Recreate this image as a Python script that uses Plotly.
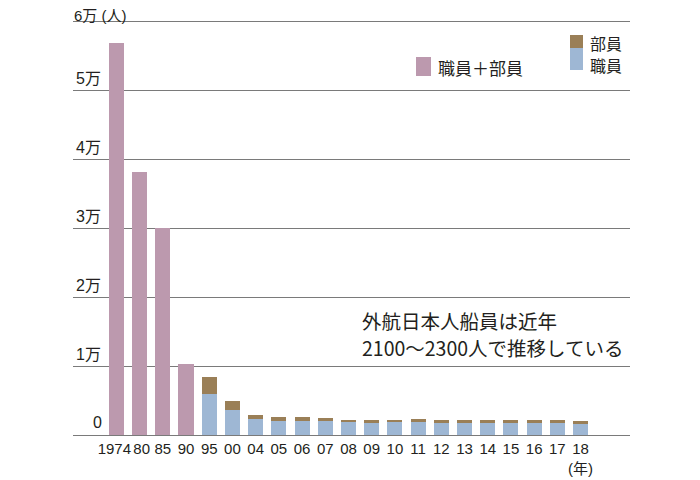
import plotly.graph_objects as go

PINK_COLOR = "#BC99AE"
BROWN_COLOR = "#9A7F57"
BLUE_COLOR = "#9EB7D4"
GRID_COLOR = "#7A7A7A"
TEXT_COLOR = "#231F20"
JP_FONT = "Noto Sans CJK JP"
NUM_FONT = "Liberation Sans, Noto Sans CJK JP"
NBSP = "\u00a0"

# DATA
years = ["1974", "80", "85", "90", "95", "00", "04", "05", "06", "07",
         "08", "09", "10", "11", "12", "13", "14", "15", "16", "17", "18"]

# 職員＋部員 (1974-90)
total_crew = [56800, 38100, 30000, 10300] + [None] * 17

# 職員 (1995-)
officers = [None] * 4 + [5900, 3560, 2320, 2070, 2070, 1980, 1830, 1740,
                         1830, 1830, 1710, 1690, 1790, 1740, 1740, 1740, 1550]

# 部員 (1995-)
ratings = [None] * 4 + [2500, 1410, 620, 540, 580, 480, 390, 380,
                        390, 430, 410, 480, 430, 430, 380, 430, 480]

y_tickvals = [10000, 20000, 30000, 40000, 50000, 60000]
y_ticktext = ["1万", "2万", "3万", "4万", "5万", ""]
y_top_label = "6万 (人)"

# tight labels at the left need a little air between them
x_ticktext = ["1974" + NBSP, NBSP + "80"] + years[2:-1] + ["18<br>(年)"]

# page offset (body margin) and plot area in page pixels
OFF = 8
FIG_W = 700 - OFF
FIG_H = 480 - OFF
PLOT_L = 73
PLOT_R = 630
PLOT_T = 8
PLOT_B = 435


def px_x(x):
    return (x - PLOT_L) / (PLOT_R - PLOT_L)


def px_y(y):
    return (PLOT_B - y) / (PLOT_B - PLOT_T)


fig = go.Figure()

fig.add_trace(
    go.Bar(
        x=years,
        y=total_crew,
        name="職員＋部員",
        marker=dict(color=PINK_COLOR, line=dict(width=0)),
        width=0.65
    )
)

fig.add_trace(
    go.Bar(
        x=years,
        y=officers,
        name="職員",
        marker=dict(color=BLUE_COLOR, line=dict(width=0)),
        width=0.65
    )
)

fig.add_trace(
    go.Bar(
        x=years,
        y=ratings,
        name="部員",
        marker=dict(color=BROWN_COLOR, line=dict(width=0)),
        width=0.65
    )
)

fig.update_layout(
    barmode="stack",
    showlegend=False,
    width=FIG_W,
    height=FIG_H,
    margin=dict(
        l=PLOT_L - OFF,
        r=FIG_W - (PLOT_R - OFF),
        t=PLOT_T - OFF,
        b=FIG_H - (PLOT_B - OFF)
    ),
    paper_bgcolor="white",
    plot_bgcolor="white",
    font=dict(family=JP_FONT, color=TEXT_COLOR, size=15)
)

fig.update_xaxes(
    type="category",
    range=[-1.87, 22.13],
    tickmode="array",
    tickvals=years,
    ticktext=x_ticktext,
    tickangle=0,
    ticks="",
    automargin=False,
    showgrid=False,
    showline=True,
    linecolor=GRID_COLOR,
    linewidth=1,
    tickfont=dict(family=NUM_FONT, size=15, color=TEXT_COLOR)
)

fig.update_yaxes(
    range=[0, 60000 * (PLOT_B - PLOT_T) / (PLOT_B - 21)],
    tickmode="array",
    tickvals=y_tickvals,
    ticktext=y_ticktext,
    ticklabelposition="inside top",
    ticklabelstandoff=0,
    ticks="",
    automargin=False,
    showgrid=True,
    gridcolor=GRID_COLOR,
    gridwidth=1,
    zeroline=False,
    tickfont=dict(family=NUM_FONT, size=16, color=TEXT_COLOR)
)

# top label and zero label
fig.add_annotation(
    x=0, y=y_tickvals[-1], xref="paper", yref="y",
    yshift=-4,
    borderpad=0,
    text=y_top_label,
    showarrow=False,
    xanchor="left", yanchor="bottom",
    font=dict(family=NUM_FONT, size=15, color=TEXT_COLOR)
)

fig.add_annotation(
    x=0, y=0, xref="paper", yref="y",
    xshift=31, yshift=2,
    text="0",
    showarrow=False,
    xanchor="right", yanchor="bottom",
    font=dict(family=NUM_FONT, size=16, color=TEXT_COLOR)
)

# legend swatches
swatches = [
    (416, 431, 57, 76, PINK_COLOR),
    (570, 583, 35, 48, BROWN_COLOR),
    (570, 583, 48, 70, BLUE_COLOR),
]

for x0, x1, y0, y1, color in swatches:
    fig.add_shape(
        type="rect",
        xref="paper", yref="paper",
        x0=px_x(x0), x1=px_x(x1),
        y0=px_y(y1), y1=px_y(y0),
        fillcolor=color,
        line=dict(width=0)
    )

legend_labels = [
    (436, 67, "職員＋部員", 17),
    (588, 43, "部員", 16),
    (588, 65, "職員", 16),
]

for tx, ty, label, size in legend_labels:
    fig.add_annotation(
        x=px_x(tx), y=px_y(ty),
        xref="paper", yref="paper",
        text=label,
        showarrow=False,
        xanchor="left", yanchor="middle",
        font=dict(family=JP_FONT, size=size, color=TEXT_COLOR)
    )

# note
note_lines = [
    (321, "外航日本人船員は近年"),
    (347, "2100～2300人で推移している"),
]

for ty, line in note_lines:
    fig.add_annotation(
        x=px_x(360), y=px_y(ty),
        xref="paper", yref="paper",
        text=line,
        showarrow=False,
        xanchor="left", yanchor="middle",
        font=dict(family=JP_FONT, size=19.5, color=TEXT_COLOR)
    )

fig.write_html("out.html")
